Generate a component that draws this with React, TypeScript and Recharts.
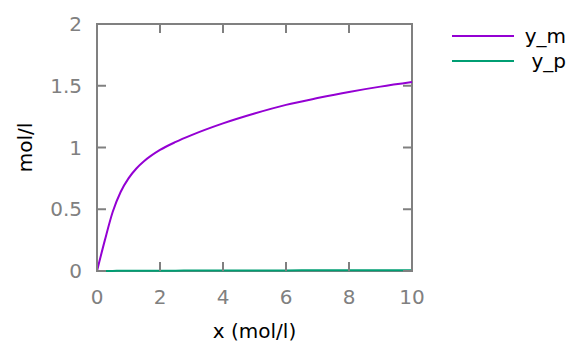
import { LineChart, Line, XAxis, YAxis, Legend, ReferenceArea, Label } from 'recharts'

const xValues = [0, 0.25, 0.5, 0.75, 1, 1.25, 1.5, 2, 2.5, 3, 4, 5, 6, 7, 8, 9, 10]
const yM = [0, 0.25, 0.48, 0.64, 0.75, 0.83, 0.89, 0.98, 1.045, 1.1, 1.195, 1.275, 1.345, 1.4, 1.45, 1.493, 1.53]
const yP = [0, 0.001, 0.001, 0.002, 0.002, 0.002, 0.003, 0.003, 0.003, 0.004, 0.004, 0.005, 0.005, 0.006, 0.006, 0.007, 0.007]

const xTicks = [0, 2, 4, 6, 8, 10]
const yTicks = [0, 0.5, 1, 1.5, 2]

const series = [
  { key: 'y_m', color: '#9400d3' },
  { key: 'y_p', color: '#009e73' },
]

const data = xValues.map((x, i) => ({ x, y_m: yM[i], y_p: yP[i] }))

// plot box (pixels)
const LEFT = 97
const RIGHT = 412
const TOP = 24
const BOTTOM = 271
const GRAY = '#808080'
const TICK = 9

function XTick(props: any) {
  const { x, payload } = props
  return (
    <g>
      <line x1={x} x2={x} y1={BOTTOM} y2={BOTTOM - TICK} stroke={GRAY} strokeWidth={2} />
      <line x1={x} x2={x} y1={TOP} y2={TOP + TICK} stroke={GRAY} strokeWidth={2} />
      <text x={x} y={BOTTOM + 33} textAnchor="middle" fill={GRAY} fontSize={20}>
        {payload.value}
      </text>
    </g>
  )
}

function YTick(props: any) {
  const { y, payload } = props
  return (
    <g>
      <line x1={LEFT} x2={LEFT + TICK} y1={y} y2={y} stroke={GRAY} strokeWidth={2} />
      <line x1={RIGHT} x2={RIGHT - TICK} y1={y} y2={y} stroke={GRAY} strokeWidth={2} />
      <text x={LEFT - 15} y={y + 7} textAnchor="end" fill={GRAY} fontSize={20}>
        {payload.value}
      </text>
    </g>
  )
}

function LegendBox() {
  return (
    <div style={{ width: 114, fontFamily: 'DejaVu Sans', fontSize: 20, color: '#000' }}>
      {series.map((s) => (
        <div key={s.key} style={{ display: 'flex', alignItems: 'center', height: 25 }}>
          <svg width={62} height={4} style={{ display: 'block' }}>
            <line x1={0} x2={62} y1={2} y2={2} stroke={s.color} strokeWidth={2} />
          </svg>
          <span style={{ flex: 1, textAlign: 'right', lineHeight: '25px' }}>{s.key}</span>
        </div>
      ))}
    </div>
  )
}

export default function App() {
  return (
    <div style={{ position: 'absolute', left: 0, top: 0 }}>
      <LineChart
        width={581}
        height={349}
        data={data}
        margin={{ top: TOP, right: 581 - RIGHT, bottom: 0, left: 0 }}
        style={{ fontFamily: 'DejaVu Sans' }}
      >
        <ReferenceArea x1={0} x2={10} y1={0} y2={2} fill="none" stroke={GRAY} strokeWidth={2} />
        <XAxis
          dataKey="x"
          type="number"
          domain={[0, 10]}
          ticks={xTicks}
          height={349 - BOTTOM}
          axisLine={false}
          tickLine={false}
          tick={<XTick />}
          interval={0}
        >
          <Label
            content={() => (
              <text x={(LEFT + RIGHT) / 2} y={338} textAnchor="middle" fontSize={20} fill="#000">
                x (mol/l)
              </text>
            )}
          />
        </XAxis>
        <YAxis
          type="number"
          domain={[0, 2]}
          ticks={yTicks}
          width={LEFT}
          axisLine={false}
          tickLine={false}
          tick={<YTick />}
          interval={0}
        >
          <Label
            content={() => (
              <text
                x={32}
                y={(TOP + BOTTOM) / 2}
                transform={`rotate(-90 32 ${(TOP + BOTTOM) / 2})`}
                textAnchor="middle"
                fontSize={20}
                fill="#000"
              >
                mol/l
              </text>
            )}
          />
        </YAxis>
        <Legend
          content={<LegendBox />}
          wrapperStyle={{ position: 'absolute', left: 452, top: 23.5, width: 0, height: 0, overflow: 'visible' }}
        />
        {series.map((s) => (
          <Line
            key={s.key}
            dataKey={s.key}
            type="monotone"
            stroke={s.color}
            strokeWidth={2}
            dot={false}
            isAnimationActive={false}
          />
        ))}
      </LineChart>
    </div>
  )
}
